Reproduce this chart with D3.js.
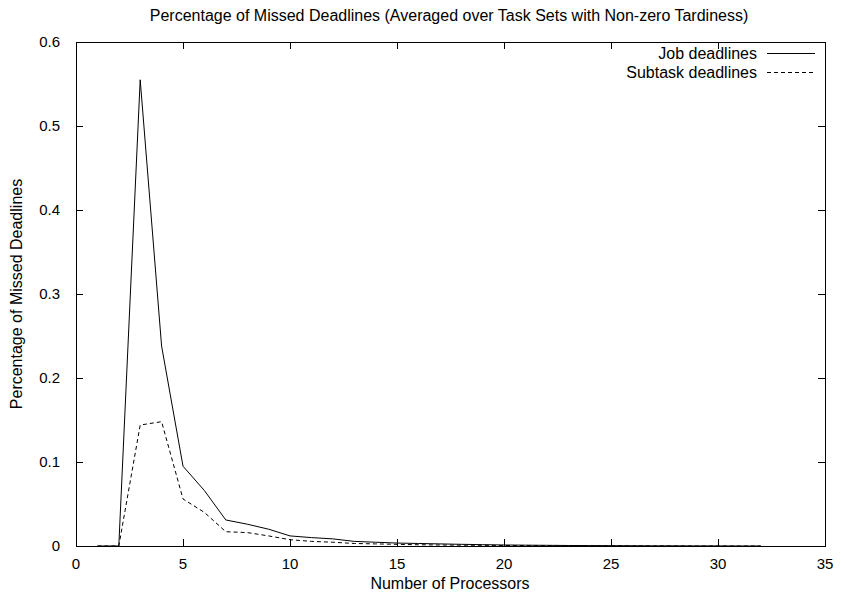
<!DOCTYPE html>
<html>
<head>
<meta charset="utf-8">
<script src="https://cdn.jsdelivr.net/npm/d3@7"></script>
<style>
  body { margin: 0; background: #fff; }
  text { font-family: "Liberation Sans", Arial, Helvetica, sans-serif; font-size: 15px; fill: #000; }
  .big { font-size: 16px; }
</style>
</head>
<body>
<svg id="chart" width="846" height="596"></svg>
<script>
// Number of processors
const processors = [1,2,3,4,5,6,7,8,9,10,11,12,13,14,15,16,17,18,19,20,21,22,23,24,25,26,27,28,29,30,31,32];
// Fraction of job deadlines missed
const jobMissed = [0,0,0.555,0.238,0.095,0.066,0.031,0.026,0.020,0.012,0.010,0.0085,0.0055,0.0045,0.0035,0.003,0.0025,0.002,0.0016,0.0012,0.001,0.0008,0.0006,0.0005,0.0004,0.0003,0.0002,0.0002,0.0001,0.0001,0,0];
// Fraction of subtask deadlines missed
const subtaskMissed = [0,0,0.144,0.148,0.056,0.040,0.017,0.016,0.012,0.0075,0.0055,0.0045,0.003,0.0025,0.002,0.0015,0.0012,0.001,0.0008,0.0006,0.0005,0.0004,0.0003,0.0002,0.0002,0.0001,0.0001,0.0001,0,0,0,0];
const xTicks = [0,5,10,15,20,25,30,35];
const yTicks = [0,0.1,0.2,0.3,0.4,0.5,0.6];

(function () {
  const svg = d3.select("#chart");
  const plotL = 76, plotR = 825, plotT = 42, plotB = 546;

  const x = d3.scaleLinear().domain([0, 35]).range([plotL, plotR]);
  const y = d3.scaleLinear().domain([0, 0.6]).range([plotB, plotT]);

  // Frame
  svg.append("rect")
    .attr("x", plotL + 0.5).attr("y", plotT + 0.5)
    .attr("width", plotR - plotL).attr("height", plotB - plotT)
    .attr("fill", "none").attr("stroke", "#000").attr("stroke-width", 1);

  // Ticks (inward, mirrored on opposite sides)
  const tickLen = 7;
  const g = svg.append("g").attr("stroke", "#000").attr("stroke-width", 1);
  xTicks.forEach(t => {
    const px = Math.round(x(t)) + 0.5;
    g.append("line").attr("x1", px).attr("x2", px).attr("y1", plotB).attr("y2", plotB - tickLen);
    g.append("line").attr("x1", px).attr("x2", px).attr("y1", plotT).attr("y2", plotT + tickLen);
  });
  yTicks.forEach(t => {
    const py = Math.round(y(t)) + 0.5;
    g.append("line").attr("x1", plotL).attr("x2", plotL + tickLen).attr("y1", py).attr("y2", py);
    g.append("line").attr("x1", plotR).attr("x2", plotR - tickLen).attr("y1", py).attr("y2", py);
  });

  // Tick labels
  svg.selectAll(".xl").data(xTicks).enter().append("text")
    .attr("x", d => x(d)).attr("y", plotB + 23)
    .attr("text-anchor", "middle").text(d => d);
  svg.selectAll(".yl").data(yTicks).enter().append("text")
    .attr("x", plotL - 16).attr("y", d => y(d) + 5)
    .attr("text-anchor", "end").text(d => d === 0 ? "0" : d3.format(".1f")(d));

  // Axis titles
  svg.append("text").attr("class", "big").attr("x", 450).attr("y", 589).attr("text-anchor", "middle").text("Number of Processors");
  svg.append("text").attr("class", "big").attr("transform", "translate(22,294) rotate(-90)").attr("text-anchor", "middle").text("Percentage of Missed Deadlines");
  svg.append("text").attr("class", "big").attr("x", 449).attr("y", 21).attr("text-anchor", "middle").text("Percentage of Missed Deadlines (Averaged over Task Sets with Non-zero Tardiness)");

  // Series lines
  const line = d3.line().x((d, i) => x(processors[i])).y(d => y(d));
  svg.append("path").datum(jobMissed).attr("d", line)
    .attr("fill", "none").attr("stroke", "#000").attr("stroke-width", 1);
  svg.append("path").datum(subtaskMissed).attr("d", line)
    .attr("fill", "none").attr("stroke", "#000").attr("stroke-width", 1).attr("stroke-dasharray", "4,3");

  // Legend
  const legend = [
    { label: "Job deadlines", dash: null },
    { label: "Subtask deadlines", dash: "4,3" }
  ];
  legend.forEach((d, i) => {
    const ly = 53 + i * 19;
    svg.append("text").attr("class", "big").attr("x", 757).attr("y", ly + 6).attr("text-anchor", "end").text(d.label);
    svg.append("line").attr("x1", 767).attr("x2", 815).attr("y1", ly + 0.5).attr("y2", ly + 0.5)
      .attr("stroke", "#000").attr("stroke-width", 1).attr("stroke-dasharray", d.dash);
  });
})();
</script>
</body>
</html>
